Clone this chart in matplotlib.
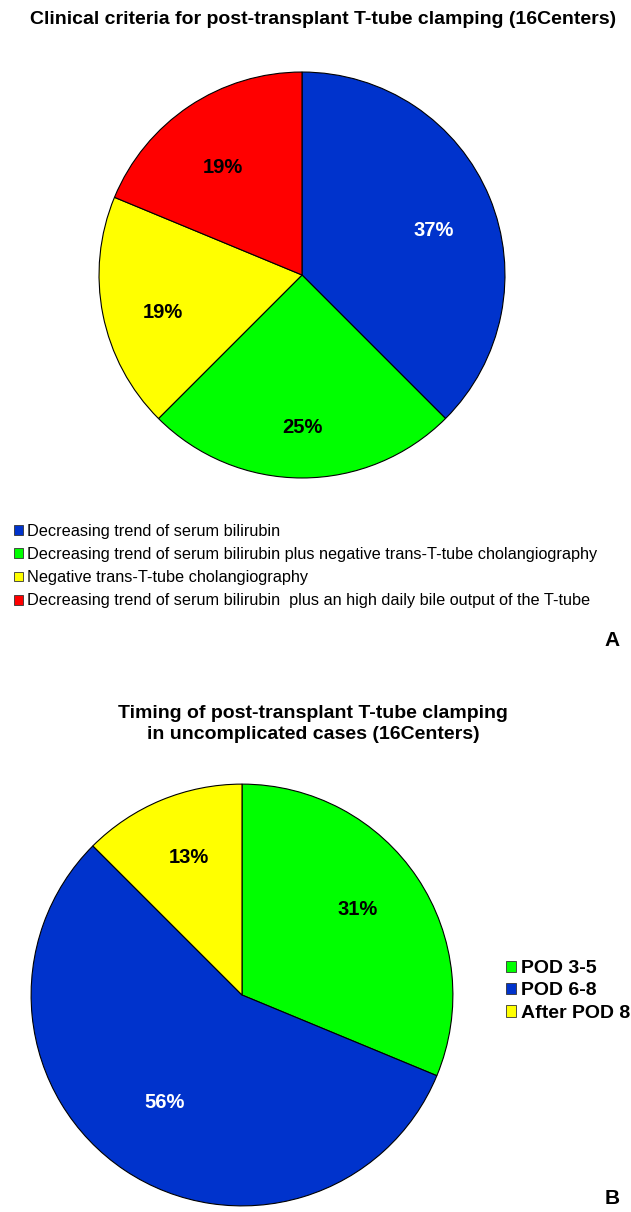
import matplotlib
matplotlib.use("Agg")
import numpy as np
import matplotlib.pyplot as plt
from matplotlib.patches import Patch

plt.rcParams['font.family'] = ['Liberation Sans', 'DejaVu Sans']

# panel A data
crit_labels = ['Decreasing trend of serum bilirubin',
               'Decreasing trend of serum bilirubin plus negative trans-T-tube cholangiography',
               'Negative trans-T-tube cholangiography',
               'Decreasing trend of serum bilirubin  plus an high daily bile output of the T-tube']
crit_counts = [6, 4, 3, 3]
crit_pct = ['37%', '25%', '19%', '19%']
crit_colors = ['#0033CC', '#00FF00', '#FFFF00', '#FF0000']
crit_txt = ['white', 'black', 'black', 'black']

# panel B data
time_labels = ['POD 3-5', 'POD 6-8', 'After POD 8']
time_counts = [5, 9, 2]
time_pct = ['31%', '56%', '13%']
time_colors = ['#00FF00', '#0033CC', '#FFFF00']
time_txt = ['black', 'white', 'black']

W, H = 631, 1212
fig = plt.figure(figsize=(W/100, H/100), dpi=100)

def pie_axes(cx, cy, r):
    return fig.add_axes([(cx - r)/W, 1 - (cy + r)/H, 2*r/W, 2*r/H])

def draw_pie(ax, counts, colors, pcts, txtcols, dist, dy):
    wedges, _ = ax.pie(counts, colors=colors, startangle=90, counterclock=False,
                       radius=1, wedgeprops=dict(edgecolor='black', linewidth=0.8))
    tot = sum(counts)
    start = 90
    for c, p, tc in zip(counts, pcts, txtcols):
        mid = np.deg2rad(start - 180*c/tot)
        ax.text(dist*np.cos(mid), dist*np.sin(mid) + dy, p, ha='center', va='center',
                fontsize=14.5, fontweight='bold', color=tc)
        start -= 360*c/tot
    ax.set_xlim(-1.01, 1.01)
    ax.set_ylim(-1.01, 1.01)
    ax.set_aspect('auto')
    return wedges

axA = pie_axes(302, 275, 205)
wA = draw_pie(axA, crit_counts, crit_colors, crit_pct, crit_txt, 0.7, -0.05)
fig.text(323/W, 1 - 20/H, 'Clinical criteria for post-transplant T-tube clamping (16Centers)',
         ha='center', va='center', fontsize=14, fontweight='bold')
fig.legend(handles=[Patch(facecolor=c, edgecolor='#333333', linewidth=0.6) for c in crit_colors],
           labels=crit_labels, loc='upper left', bbox_to_anchor=(14/W, 1 - 524/H),
           frameon=False, fontsize=11.7, handlelength=0.55, handleheight=0.55,
           handletextpad=0.25, labelspacing=0.5, borderpad=0, borderaxespad=0)
fig.text(612/W, 1 - 641/H, 'A', ha='center', va='center', fontsize=15, fontweight='bold')

axB = pie_axes(242, 995, 213)
wB = draw_pie(axB, time_counts, time_colors, time_pct, time_txt, 0.66, 0.04)
fig.text(313/W, 1 - 724/H, 'Timing of post-transplant T-tube clamping\nin uncomplicated cases (16Centers)',
         ha='center', va='center', fontsize=14, fontweight='bold', linespacing=1.3)
fig.legend(handles=[Patch(facecolor=c, edgecolor='#333333', linewidth=0.6) for c in time_colors],
           labels=time_labels, loc='upper left', bbox_to_anchor=(506/W, 1 - 960/H),
           frameon=False, prop={'weight': 'bold', 'size': 14},
           handlelength=0.5, handleheight=0.5,
           handletextpad=0.25, labelspacing=0.28, borderpad=0, borderaxespad=0)
fig.text(612/W, 1 - 1198/H, 'B', ha='center', va='center', fontsize=15, fontweight='bold')

fig.savefig('out.png', dpi=100)
